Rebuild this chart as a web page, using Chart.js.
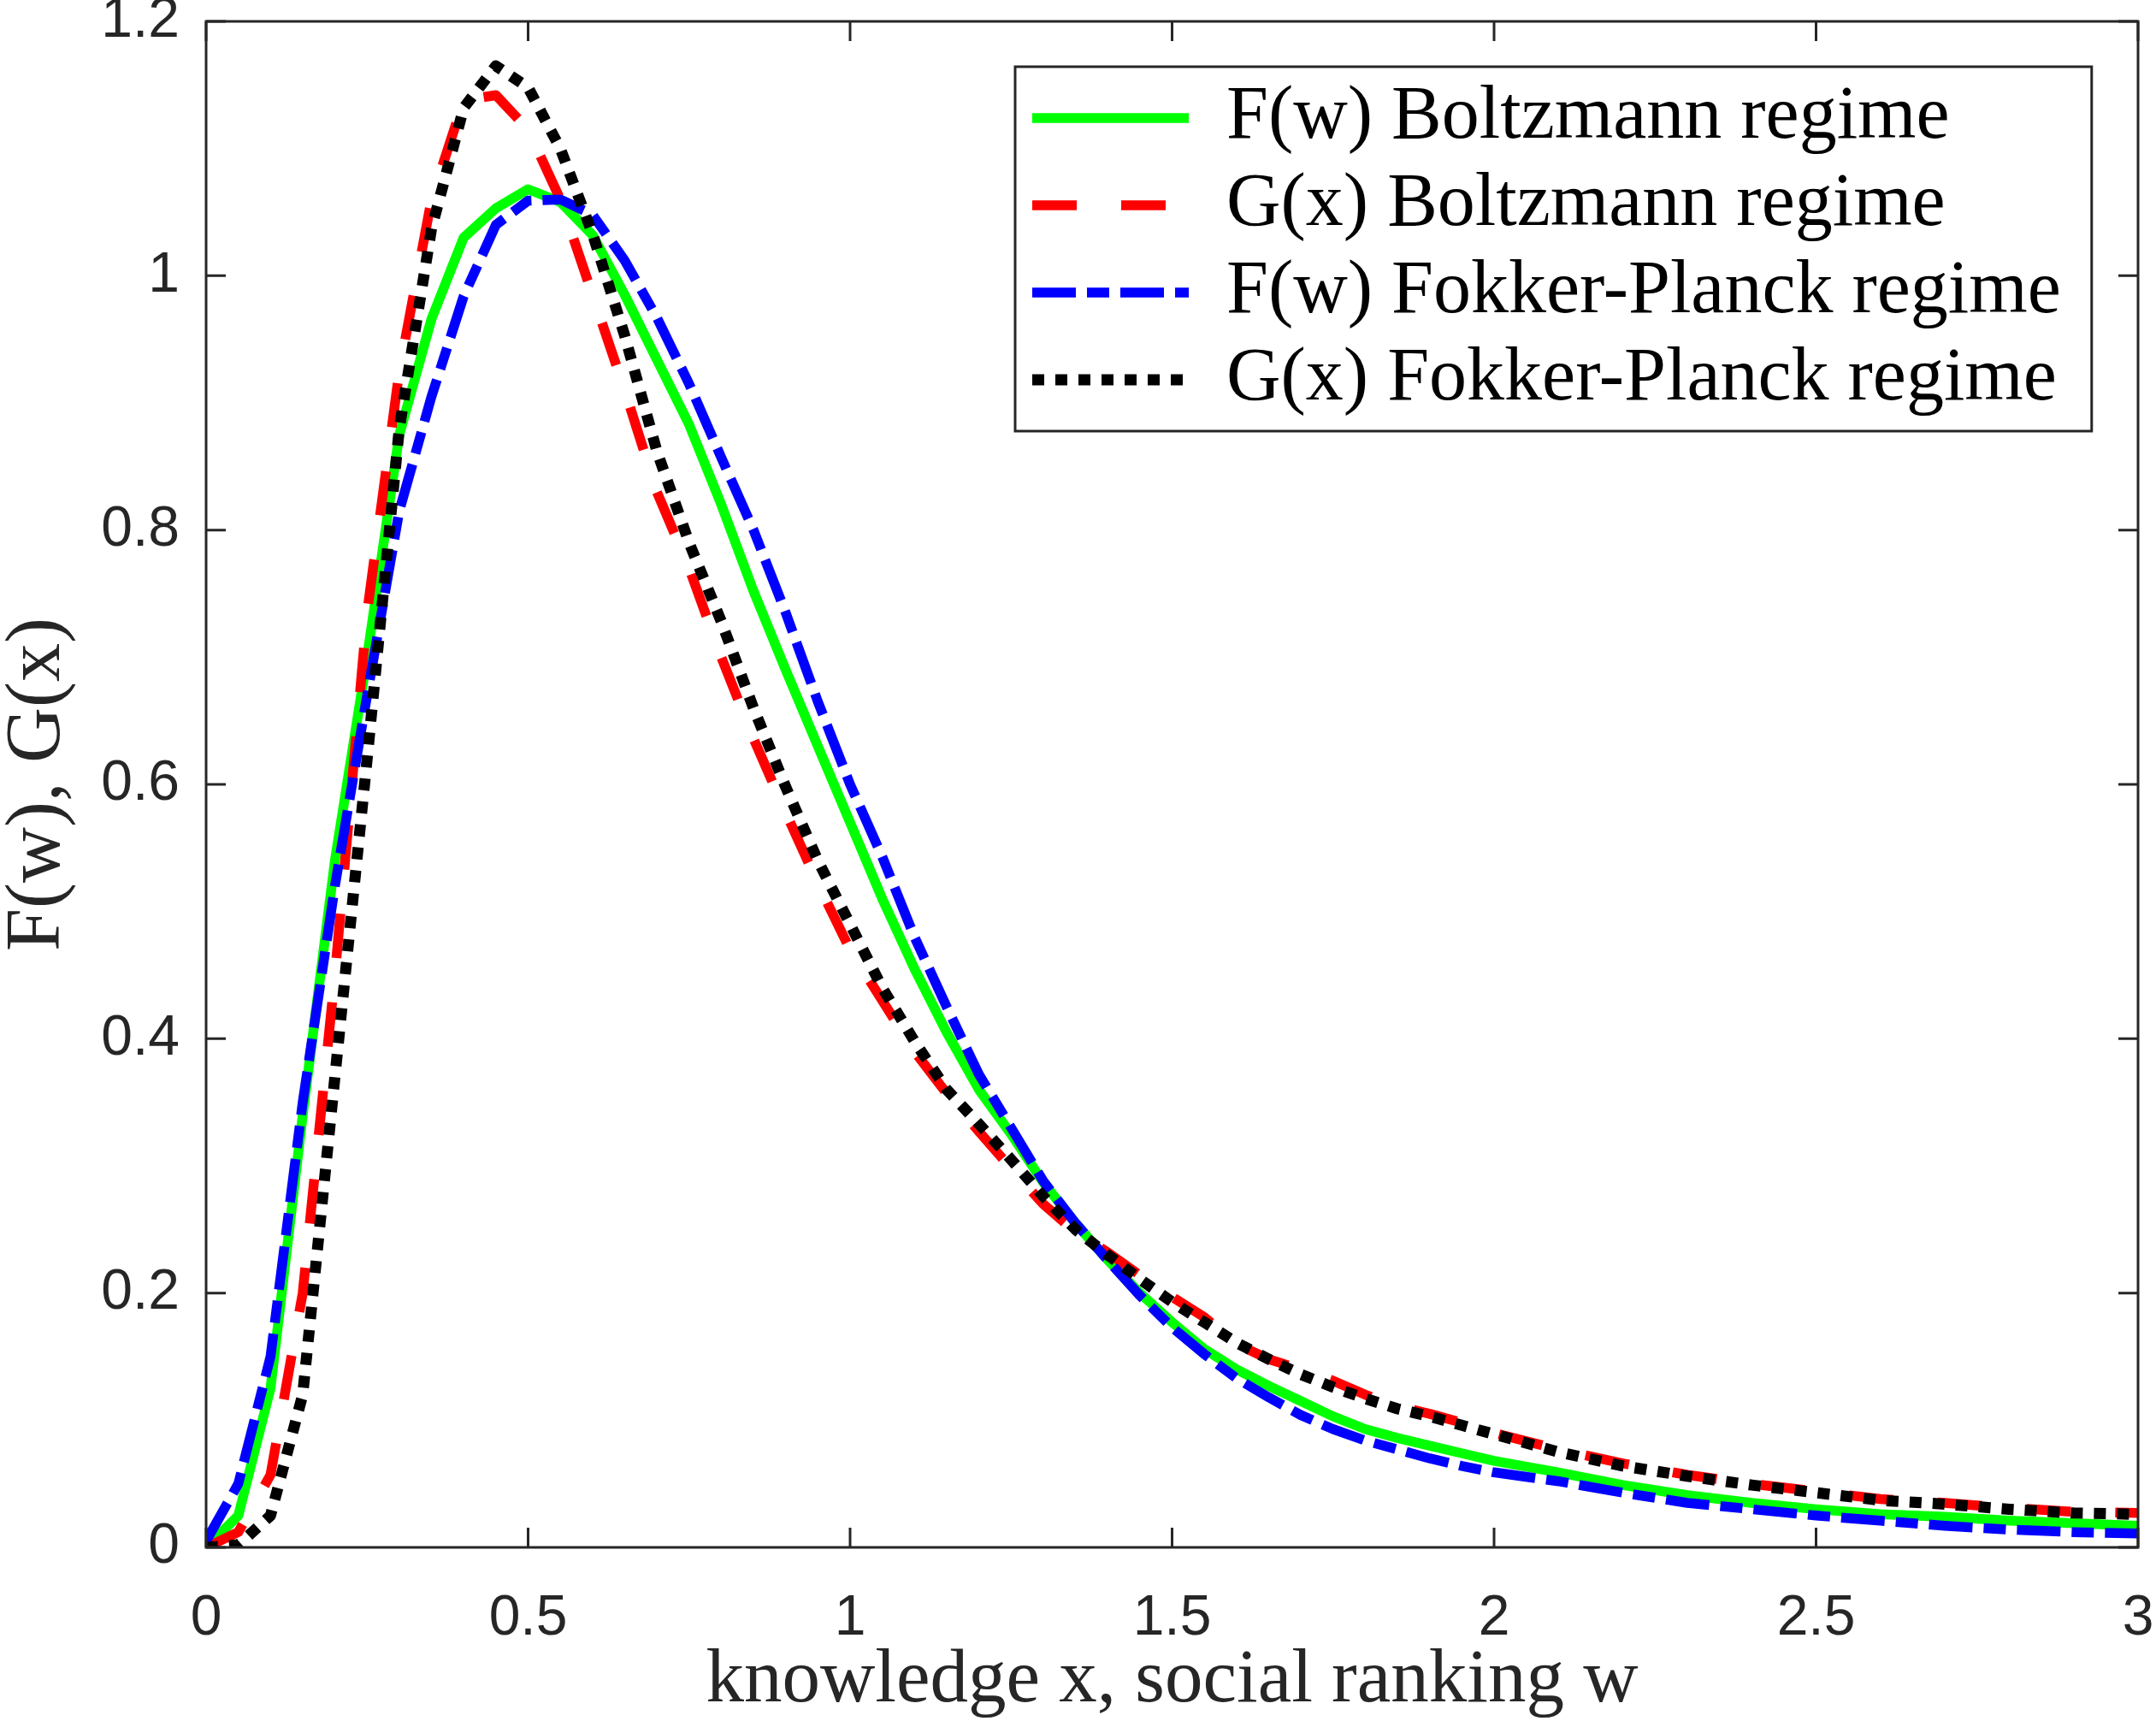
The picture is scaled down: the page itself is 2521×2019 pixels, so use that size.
<!DOCTYPE html>
<html>
<head>
<meta charset="utf-8">
<script src="https://cdn.jsdelivr.net/npm/chart.js@4/dist/chart.umd.min.js"></script>
<style>
  html, body { margin: 0; padding: 0; background: #ffffff; }
  #wrap { width: 2521px; height: 2019px; }
</style>
</head>
<body>
<div id="wrap"><canvas id="c" width="2521" height="2019"></canvas></div>
<script>
// ---- data ----
const xValues = [0, 0.05, 0.1, 0.15, 0.2, 0.25, 0.3, 0.35, 0.4, 0.45,
  0.5, 0.55, 0.6, 0.65, 0.7, 0.75, 0.8, 0.85, 0.9, 0.95,
  1.0, 1.05, 1.1, 1.15, 1.2, 1.25, 1.3, 1.35, 1.4, 1.45,
  1.5, 1.55, 1.6, 1.65, 1.7, 1.75, 1.8, 1.85, 1.9, 1.95,
  2.0, 2.1, 2.2, 2.3, 2.4, 2.5, 2.6, 2.7, 2.8, 2.9, 3.0];

const fBoltzmann = [0, 0.025, 0.125, 0.34, 0.54, 0.70, 0.875, 0.966, 1.03, 1.053,
  1.068, 1.058, 1.032, 0.985, 0.934, 0.883, 0.82, 0.752, 0.69, 0.63,
  0.57, 0.51, 0.455, 0.405, 0.36, 0.325, 0.287, 0.255, 0.226, 0.2,
  0.177, 0.156, 0.14, 0.127, 0.115, 0.103, 0.093, 0.086, 0.08, 0.074,
  0.068, 0.059, 0.049, 0.041, 0.035, 0.030, 0.026, 0.024, 0.021, 0.019, 0.017];

const gBoltzmann = [0, 0.012, 0.057, 0.2, 0.45, 0.735, 0.925, 1.06, 1.138, 1.142,
  1.115, 1.06, 0.985, 0.91, 0.83, 0.77, 0.70, 0.636, 0.578, 0.522,
  0.47, 0.43, 0.39, 0.357, 0.327, 0.298, 0.27, 0.248, 0.232, 0.214,
  0.197, 0.181, 0.16, 0.148, 0.14, 0.131, 0.12, 0.111, 0.105, 0.098,
  0.09, 0.077, 0.066, 0.057, 0.05, 0.044, 0.038, 0.035, 0.031, 0.028, 0.027];

const fFokkerPlanck = [0.005, 0.05, 0.15, 0.35, 0.52, 0.67, 0.815, 0.905, 0.984, 1.04,
  1.059, 1.06, 1.048, 1.012, 0.967, 0.915, 0.857, 0.80, 0.735, 0.665,
  0.60, 0.543, 0.48, 0.425, 0.372, 0.33, 0.288, 0.255, 0.226, 0.198,
  0.173, 0.152, 0.133, 0.118, 0.104, 0.093, 0.084, 0.077, 0.07, 0.064,
  0.059, 0.052, 0.043, 0.035, 0.030, 0.025, 0.021, 0.017, 0.014, 0.012, 0.011];

const gFokkerPlanck = [0, 0.002, 0.025, 0.12, 0.37, 0.62, 0.88, 1.037, 1.132, 1.165,
  1.148, 1.10, 1.033, 0.953, 0.862, 0.79, 0.728, 0.66, 0.598, 0.54,
  0.49, 0.44, 0.398, 0.36, 0.333, 0.305, 0.276, 0.25, 0.23, 0.211,
  0.193, 0.177, 0.161, 0.148, 0.136, 0.126, 0.117, 0.109, 0.103, 0.096,
  0.089, 0.075, 0.064, 0.056, 0.049, 0.043, 0.037, 0.034, 0.030, 0.027, 0.026];

const seriesLabels = ['F(w) Boltzmann regime', 'G(x) Boltzmann regime',
  'F(w) Fokker-Planck regime', 'G(x) Fokker-Planck regime'];
const xTickValues = [0, 0.5, 1, 1.5, 2, 2.5, 3];
const yTickValues = [0, 0.2, 0.4, 0.6, 0.8, 1, 1.2];

const xTitle = 'knowledge x, social ranking w';
const yTitle = 'F(w), G(x)';

// ---- styling ----
const AXIS_COLOR = '#262626';
const TICK_LEN = 23;
const LINE_W = 11.5;

function pts(ys) { return xValues.map((x, i) => ({ x: x, y: ys[i] })); }

const frame = {
  id: 'frame',
  afterLayout(chart) {
    const lg = chart.legend;
    if (!lg) return;
    const w = lg.width, h = lg.height;
    lg.left = 1193; lg.top = 80;
    lg.right = lg.left + w; lg.bottom = lg.top + h;
  },
  afterDraw(chart) {
    const { ctx, chartArea: a, scales } = chart;
    const x = scales.x, y = scales.y;
    ctx.save();
    ctx.strokeStyle = AXIS_COLOR;
    ctx.lineWidth = 3;
    ctx.setLineDash([]);
    ctx.strokeRect(a.left, a.top, a.right - a.left, a.bottom - a.top);
    ctx.beginPath();
    xTickValues.forEach(v => {
      const px = x.getPixelForValue(v);
      ctx.moveTo(px, a.bottom); ctx.lineTo(px, a.bottom - TICK_LEN);
      ctx.moveTo(px, a.top); ctx.lineTo(px, a.top + TICK_LEN);
    });
    yTickValues.forEach(v => {
      const py = y.getPixelForValue(v);
      ctx.moveTo(a.left, py); ctx.lineTo(a.left + TICK_LEN, py);
      ctx.moveTo(a.right, py); ctx.lineTo(a.right - TICK_LEN, py);
    });
    ctx.stroke();

    // legend frame
    const lg = chart.legend;
    if (lg && lg.options.display) {
      const lo = lg.options.labels;
      const fs = lo.font.size;
      ctx.font = fs + 'px ' + lo.font.family;
      let maxW = 0;
      seriesLabels.forEach(s => { maxW = Math.max(maxW, ctx.measureText(s).width); });
      const left = lg.left - 6;
      const top = lg.top - 2;
      const right = lg.left + lo.padding + lo.pointStyleWidth + fs / 2 + maxW + 36;
      const bottom = lg.top + lo.padding + seriesLabels.length * (fs + lo.padding) - lo.padding + 14 + 2;
      ctx.strokeStyle = AXIS_COLOR;
      ctx.lineWidth = 3;
      ctx.strokeRect(left, top, right - left, bottom - top);
    }
    ctx.restore();
  }
};

function legendItems(chart) {
  const items = Chart.defaults.plugins.legend.labels.generateLabels(chart);
  items.forEach(it => {
    const ds = chart.data.datasets[it.datasetIndex];
    it.lineDash = ds.borderDash;
    it.lineWidth = ds.borderWidth;
    it.strokeStyle = ds.borderColor;
    it.fillStyle = ds.borderColor;
    it.pointStyle = 'line';
    it.lineCap = 'butt';
  });
  return items;
}

function zeroPad(s) { s.paddingTop = 0; s.paddingBottom = 0; s.paddingLeft = 0; s.paddingRight = 0; }

new Chart(document.getElementById('c'), {
  type: 'line',
  data: {
    datasets: [
      { label: seriesLabels[0], data: pts(fBoltzmann), borderColor: '#00ff00', backgroundColor: '#00ff00',
        borderWidth: LINE_W, borderDash: [], order: 4 },
      { label: seriesLabels[1], data: pts(gBoltzmann), borderColor: '#ff0000', backgroundColor: '#ff0000',
        borderWidth: LINE_W, borderDash: [52, 52], order: 3 },
      { label: seriesLabels[2], data: pts(fFokkerPlanck), borderColor: '#0000ff', backgroundColor: '#0000ff',
        borderWidth: LINE_W, borderDash: [51, 13, 26, 13], order: 2 },
      { label: seriesLabels[3], data: pts(gFokkerPlanck), borderColor: '#000000', backgroundColor: '#000000',
        borderWidth: 13, borderDash: [14, 13], order: 1 }
    ]
  },
  options: {
    responsive: false,
    animation: false,
    devicePixelRatio: 1,
    elements: {
      line: { tension: 0, fill: false, borderCapStyle: 'butt', borderJoinStyle: 'round' },
      point: { radius: 0, hoverRadius: 0 }
    },
    layout: { padding: { top: 25, right: 21, left: 0, bottom: 0 } },
    plugins: {
      tooltip: { enabled: false },
      legend: {
        display: true,
        position: 'chartArea',
        align: 'start',
        labels: {
          usePointStyle: true,
          pointStyle: 'line',
          pointStyleWidth: 183,
          boxHeight: 88,
          padding: 14,
          color: '#000000',
          font: { family: 'Liberation Serif', size: 88 },
          generateLabels: legendItems,
          sort: (a, b) => a.datasetIndex - b.datasetIndex
        }
      }
    },
    scales: {
      x: {
        type: 'linear', min: 0, max: 3,
        afterFit: s => { s.height = 210; zeroPad(s); },
        grid: { display: false, drawTicks: false },
        border: { display: false },
        afterBuildTicks: s => { s.ticks = xTickValues.map(v => ({ value: v })); },
        ticks: { color: AXIS_COLOR, padding: 44, maxRotation: 0,
          callback: v => String(v),
          font: { family: 'Liberation Sans', size: 66 } },
        title: { display: true, text: xTitle, color: AXIS_COLOR,
          font: { family: 'Liberation Serif', size: 89, lineHeight: 1 }, padding: { top: 0, bottom: 9 } }
      },
      y: {
        type: 'linear', min: 0, max: 1.2,
        afterFit: s => { s.width = 241; zeroPad(s); },
        grid: { display: false, drawTicks: false },
        border: { display: false },
        afterBuildTicks: s => { s.ticks = yTickValues.map(v => ({ value: v })); },
        ticks: { color: AXIS_COLOR, padding: 31,
          callback: v => String(v),
          font: { family: 'Liberation Sans', size: 66 } },
        title: { display: true, text: yTitle, color: AXIS_COLOR,
          font: { family: 'Liberation Serif', size: 90, lineHeight: 1 }, padding: { top: 0, bottom: 0 } }
      }
    }
  },
  plugins: [frame]
});
</script>
</body>
</html>
